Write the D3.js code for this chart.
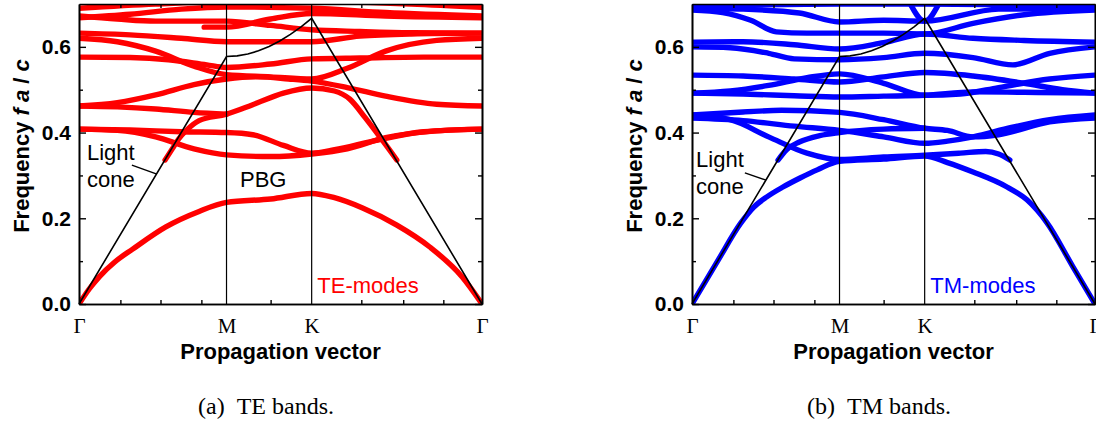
<!DOCTYPE html>
<html>
<head>
<meta charset="utf-8">
<script src="https://cdn.jsdelivr.net/npm/d3@7"></script>
<style>
  body { margin: 0; background: #fff; }
  svg { display: block; }
</style>
</head>
<body>
<svg id="chart" width="1096" height="423"></svg>
<script>
// ---- path through the Brillouin zone: Γ – M – K – Γ (units of 2π/a) ----
const kSymmetry = [0, 0.5774, 0.9107, 1.5774];
const kLabels = ["Γ", "M", "K", "Γ"];
const kMinor = [0.162, 0.319, 0.479, 0.750, 1.105, 1.269, 1.426];
const fTicks = [0, 0.2, 0.4, 0.6];
const fMinor = [0.1, 0.3, 0.5];

// light line |k| along the path
const lightCone = [
  [0, 0], [0.5774, 0.5774], [0.6191, 0.5789], [0.6607, 0.5833], [0.7024, 0.5907],
  [0.7441, 0.6009], [0.7857, 0.6138], [0.8274, 0.6292], [0.8691, 0.6468],
  [0.9107, 0.6667], [1.5774, 0]
];

// ---- TE bands, [k, f a/c] ----
const te1 = [[0,0],[0.04,0.035],[0.08,0.064],[0.14,0.098],[0.21,0.128],[0.34,0.18],[0.47,0.216],[0.5774,0.237],[0.75,0.245],[0.9107,0.258],[1.0,0.248],[1.11,0.224],[1.244,0.184],[1.373,0.133],[1.50,0.063],[1.5774,0]];
const te2 = [[0,0.408],[0.15,0.405],[0.3,0.39],[0.45,0.362],[0.5774,0.348],[0.75,0.344],[0.9107,0.35],[1.05,0.362],[1.2,0.388],[1.4,0.404],[1.5774,0.408]];
const te3 = [[0,0.408],[0.2,0.406],[0.4,0.402],[0.5774,0.400],[0.68,0.395],[0.8,0.37],[0.9107,0.352],[1.0,0.36],[1.15,0.38],[1.35,0.402],[1.5774,0.408]];
const te4 = [[0.337,0.336],[0.365,0.362],[0.39,0.385],[0.42,0.405],[0.47,0.428],[0.5774,0.443],[0.68,0.465],[0.8,0.492],[0.9107,0.504],[1.0,0.497],[1.06,0.478],[1.12,0.435],[1.18,0.388],[1.244,0.336]];
const te5 = [[0,0.462],[0.15,0.47],[0.3,0.488],[0.45,0.512],[0.5774,0.525],[0.7,0.53],[0.82,0.525],[0.9107,0.52],[1.05,0.505],[1.2,0.485],[1.4,0.466],[1.5774,0.462]];
const te6 = [[0,0.462],[0.15,0.46],[0.3,0.455],[0.45,0.447],[0.5774,0.443]];
const te7 = [[0,0.576],[0.2,0.575],[0.35,0.57],[0.5,0.558],[0.5774,0.552],[0.75,0.56],[0.9107,0.572],[1.1,0.574],[1.35,0.576],[1.5774,0.576]];
const te8 = [[0,0.62],[0.15,0.612],[0.3,0.59],[0.45,0.555],[0.5774,0.535],[0.75,0.53],[0.9107,0.525],[1.05,0.55],[1.2,0.59],[1.4,0.615],[1.5774,0.62]];
const te9 = [[0,0.632],[0.2,0.628],[0.4,0.62],[0.5774,0.612],[0.75,0.612],[0.9107,0.612],[1.1,0.625],[1.3,0.63],[1.5774,0.632]];
const te10 = [[0,0.672],[0.15,0.665],[0.3,0.66],[0.5774,0.66],[0.75,0.65],[0.9107,0.64],[1.1,0.636],[1.3,0.633],[1.5774,0.632]];
const te11 = [[0.49,0.646],[0.5774,0.646],[0.75,0.665],[0.9107,0.678],[1.2,0.672],[1.5774,0.668]];
const te12 = [[0,0.668],[0.2,0.676],[0.4,0.688],[0.5774,0.693],[0.9107,0.69],[1.2,0.68],[1.5774,0.672]];
const te13 = [[0,0.69],[0.3,0.7],[0.5774,0.705],[0.9107,0.705],[1.3,0.7],[1.5774,0.692]];
const teBands = [te1, te2, te3, te4, te5, te6, te7, te8, te9, te10, te11, te12, te13];

// ---- TM bands, [k, f a/c] ----
const tm1 = [[0,0],[0.1,0.1],[0.19,0.188],[0.24,0.225],[0.293,0.25],[0.356,0.273],[0.423,0.294],[0.49,0.313],[0.5774,0.333],[0.75,0.338],[0.9107,0.345],[1.0,0.33],[1.1,0.308],[1.233,0.273],[1.311,0.243],[1.389,0.19],[1.49,0.088],[1.5774,0]];
const tm2 = [[0,0.441],[0.15,0.43],[0.3,0.39],[0.45,0.352],[0.5774,0.337],[0.75,0.343],[0.9107,0.347],[1.05,0.352],[1.15,0.356],[1.2,0.35],[1.244,0.336]];
const tm3 = [[0.337,0.336],[0.37,0.36],[0.42,0.378],[0.5,0.393],[0.5774,0.40],[0.75,0.408],[0.9107,0.41]];
const tm4 = [[0,0.434],[0.2,0.428],[0.4,0.415],[0.5774,0.405],[0.75,0.39],[0.9107,0.375],[1.0,0.38],[1.1,0.39],[1.25,0.412],[1.4,0.43],[1.5774,0.441]];
const tm5 = [[0,0.441],[0.2,0.448],[0.35,0.452],[0.5774,0.447],[0.75,0.43],[0.9107,0.41],[1.0,0.405],[1.1,0.39],[1.2,0.395],[1.4,0.425],[1.5774,0.434]];
const tm6 = [[0,0.492],[0.15,0.497],[0.3,0.51],[0.45,0.528],[0.5774,0.537],[0.75,0.515],[0.9107,0.487],[1.05,0.49],[1.2,0.505],[1.4,0.525],[1.5774,0.534]];
const tm7 = [[0,0.534],[0.2,0.532],[0.4,0.525],[0.5774,0.518],[0.75,0.53],[0.9107,0.54],[1.1,0.532],[1.3,0.515],[1.45,0.5],[1.5774,0.492]];
const tm8 = [[0,0.492],[0.2,0.49],[0.4,0.486],[0.5774,0.483],[0.75,0.485],[0.9107,0.487],[1.1,0.495],[1.3,0.494],[1.5774,0.492]];
const tm9 = [[0,0.60],[0.15,0.598],[0.3,0.585],[0.4,0.572],[0.5774,0.57],[0.75,0.575],[0.9107,0.585],[1.1,0.575],[1.256,0.558],[1.4,0.585],[1.5774,0.60]];
const tm10 = [[0,0.611],[0.2,0.612],[0.4,0.605],[0.5774,0.595],[0.75,0.61],[0.9107,0.63],[1.1,0.62],[1.3,0.615],[1.5774,0.611]];
const tm11 = [[0,0.686],[0.12,0.68],[0.23,0.662],[0.33,0.635],[0.45,0.632],[0.5774,0.632],[0.75,0.632],[0.9107,0.63],[1.1,0.655],[1.3,0.675],[1.5774,0.686]];
const tm12 = [[0,0.69],[0.2,0.688],[0.42,0.679],[0.5774,0.658],[0.75,0.662],[0.9107,0.66],[1.2,0.688],[1.5774,0.69]];
const tm13 = [[0,0.695],[0.5774,0.7],[0.9107,0.7],[1.5774,0.697]];
const tm14 = [[0.85,0.705],[0.9107,0.66],[0.97,0.705]];
const tmBands = [tm1, tm2, tm3, tm4, tm5, tm6, tm7, tm8, tm9, tm10, tm11, tm12, tm13, tm14];

// ---- layout ----
const svg = d3.select("#chart");
const plotTop = 4, plotBottom = 304;
const sans = "'Liberation Sans', Arial, sans-serif";
const serif = "'Liberation Serif', 'Times New Roman', serif";

const panels = [
  { id: "te", x0: 79, x1: 482, color: "#ff0000", bands: teBands, mode: "TE-modes",
    caption: "(a)\u2002TE bands.", captionX: 266,
    light: { k: 0.031, f: 0.336 }, leader: [[0.207, 0.324], [0.305, 0.303]], pbg: true },
  { id: "tm", x0: 692, x1: 1095, color: "#0000ff", bands: tmBands, mode: "TM-modes",
    caption: "(b)\u2002TM bands.", captionX: 879,
    light: { k: 0.016, f: 0.32 }, leader: [[0.207, 0.306], [0.29, 0.289]], pbg: false }
];

panels.forEach(p => {
  const x = d3.scaleLinear().domain([0, 1.5774]).range([p.x0, p.x1]);
  const y = d3.scaleLinear().domain([0, 0.7]).range([plotBottom, plotTop]);
  const g = svg.append("g");

  g.append("clipPath").attr("id", "clip-" + p.id)
    .append("rect").attr("x", p.x0).attr("y", plotTop)
    .attr("width", p.x1 - p.x0).attr("height", plotBottom - plotTop);

  const line = d3.line().x(d => x(d[0])).y(d => y(d[1])).curve(d3.curveMonotoneX);

  // bands
  g.append("g").attr("clip-path", `url(#clip-${p.id})`)
    .selectAll("path").data(p.bands).join("path")
    .attr("d", line)
    .attr("fill", "none").attr("stroke", p.color)
    .attr("stroke-width", 5.4).attr("stroke-linecap", "round").attr("stroke-linejoin", "round");

  // symmetry-point verticals
  g.selectAll("line.sym").data(kSymmetry.slice(1, 3)).join("line")
    .attr("x1", d => x(d)).attr("x2", d => x(d))
    .attr("y1", plotTop).attr("y2", plotBottom)
    .attr("stroke", "#000").attr("stroke-width", 1.2);

  // light cone
  g.append("path").datum(lightCone)
    .attr("d", d3.line().x(d => x(d[0])).y(d => y(d[1])))
    .attr("fill", "none").attr("stroke", "#000").attr("stroke-width", 1.6);

  // axes
  const axisStyle = sel => {
    sel.select(".domain").attr("stroke", "#000").attr("stroke-width", 1.6);
    sel.selectAll(".tick line").attr("stroke", "#000").attr("stroke-width", 1.4);
  };
  g.append("g").attr("transform", `translate(${p.x0},0)`)
    .call(d3.axisLeft(y).tickValues(fTicks).tickFormat(d3.format(".1f"))
      .tickSizeInner(-7).tickSizeOuter(0).tickPadding(8))
    .call(axisStyle)
    .call(s => s.selectAll("text").attr("font-family", sans).attr("font-weight", "bold")
      .attr("font-size", 21).attr("fill", "#000"));
  g.append("g").attr("transform", `translate(${p.x0},0)`)
    .call(d3.axisLeft(y).tickValues(fMinor).tickFormat("").tickSizeInner(-4).tickSizeOuter(0))
    .call(axisStyle);
  g.append("g").attr("transform", `translate(${p.x1},0)`)
    .call(d3.axisRight(y).tickValues(fTicks).tickFormat("").tickSizeInner(-7).tickSizeOuter(0))
    .call(axisStyle);
  g.append("g").attr("transform", `translate(${p.x1},0)`)
    .call(d3.axisRight(y).tickValues(fMinor).tickFormat("").tickSizeInner(-4).tickSizeOuter(0))
    .call(axisStyle);
  g.append("g").attr("transform", `translate(0,${plotBottom})`)
    .call(d3.axisBottom(x).tickValues(kSymmetry).tickFormat((d, i) => kLabels[i])
      .tickSizeInner(0).tickSizeOuter(0).tickPadding(14))
    .call(axisStyle)
    .call(s => s.selectAll("text").attr("font-family", serif).attr("font-size", 21).attr("fill", "#000"));
  g.append("g").attr("transform", `translate(0,${plotBottom})`)
    .call(d3.axisBottom(x).tickValues(kMinor).tickFormat("").tickSizeInner(-4).tickSizeOuter(0))
    .call(axisStyle);
  g.append("g").attr("transform", `translate(0,${plotTop})`)
    .call(d3.axisTop(x).tickValues(kMinor).tickFormat("").tickSizeInner(-4).tickSizeOuter(0))
    .call(axisStyle);

  // axis titles
  g.append("text").attr("x", (p.x0 + p.x1) / 2).attr("y", 359)
    .attr("text-anchor", "middle").attr("font-family", sans).attr("font-weight", "bold")
    .attr("font-size", 22).text("Propagation vector");
  const yt = g.append("text")
    .attr("transform", `translate(${p.x0 - 50},${(plotTop + plotBottom) / 2 - 8}) rotate(-90)`)
    .attr("text-anchor", "middle").attr("font-family", sans).attr("font-weight", "bold")
    .attr("font-size", 22);
  yt.append("tspan").text("Frequency ");
  yt.append("tspan").attr("font-style", "italic").text("f");
  yt.append("tspan").text(" ");
  yt.append("tspan").attr("font-style", "italic").text("a");
  yt.append("tspan").text(" / ");
  yt.append("tspan").attr("font-style", "italic").text("c");

  // annotations
  g.append("text").attr("x", x(p.light.k)).attr("y", y(p.light.f))
    .attr("font-family", sans).attr("font-size", 22).text("Light");
  g.append("text").attr("x", x(p.light.k)).attr("y", y(p.light.f) + 27)
    .attr("font-family", sans).attr("font-size", 22).text("cone");
  g.append("line")
    .attr("x1", x(p.leader[0][0])).attr("y1", y(p.leader[0][1]))
    .attr("x2", x(p.leader[1][0])).attr("y2", y(p.leader[1][1]))
    .attr("stroke", "#000").attr("stroke-width", 1.4);
  if (p.pbg) {
    g.append("text").attr("x", x(0.63)).attr("y", y(0.273))
      .attr("font-family", sans).attr("font-size", 22).text("PBG");
  }
  g.append("text").attr("x", x(0.933)).attr("y", y(0.026))
    .attr("font-family", sans).attr("font-size", 22).attr("fill", p.color).text(p.mode);

  // sub-figure caption
  svg.append("text").attr("x", p.captionX).attr("y", 414)
    .attr("text-anchor", "middle").attr("font-family", serif).attr("font-size", 24)
    .text(p.caption);
});
</script>
</body>
</html>
